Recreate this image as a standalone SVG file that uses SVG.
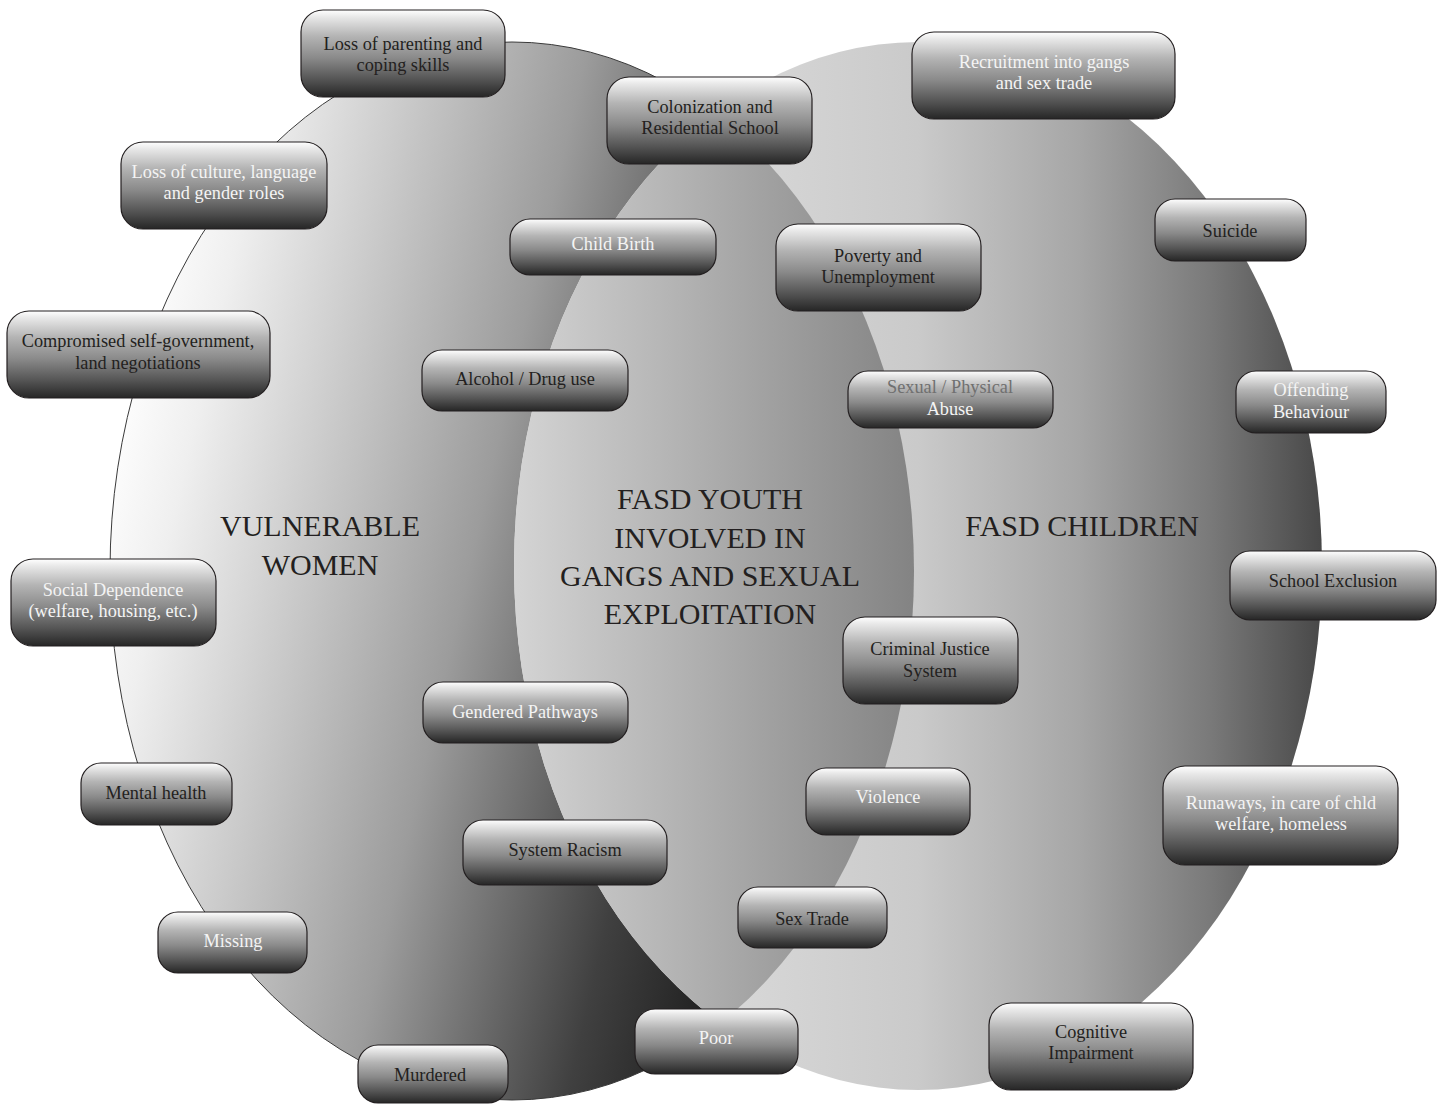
<svg xmlns="http://www.w3.org/2000/svg" width="1443" height="1104" viewBox="0 0 1443 1104">
<style>
.box{fill:url(#boxg);stroke:#231f20;stroke-width:1.2}
.t{font-family:"Liberation Serif","Times New Roman",serif;font-size:18.3px;text-anchor:middle}
.d{fill:#231f20}
.w{fill:#f4f4f4}
.g{fill:#707070}
.big{font-family:"Liberation Serif","Times New Roman",serif;font-size:30px;text-anchor:middle;fill:#231f20}
</style>
<defs>
<linearGradient id="boxg" x1="0" y1="0" x2="0" y2="1">
<stop offset="0" stop-color="#ffffff"/>
<stop offset="0.08" stop-color="#e8e8e8"/>
<stop offset="0.3" stop-color="#b4b4b4"/>
<stop offset="0.55" stop-color="#8a8a8a"/>
<stop offset="0.8" stop-color="#545454"/>
<stop offset="1" stop-color="#262626"/>
</linearGradient>
<linearGradient id="leftg" x1="0" y1="0.35" x2="1" y2="0.65">
<stop offset="0" stop-color="#ffffff"/>
<stop offset="0.1" stop-color="#efefef"/>
<stop offset="0.45" stop-color="#9c9c9c"/>
<stop offset="0.7" stop-color="#404040"/>
<stop offset="0.85" stop-color="#1e1e1e"/>
<stop offset="1" stop-color="#1a1a1a"/>
</linearGradient>
<linearGradient id="rightg" x1="0" y1="0" x2="1" y2="0">
<stop offset="0" stop-color="#e8e8e8"/>
<stop offset="0.5" stop-color="#cacaca"/>
<stop offset="0.7" stop-color="#a6a6a6"/>
<stop offset="0.86" stop-color="#7a7a7a"/>
<stop offset="1" stop-color="#484848"/>
</linearGradient>
<linearGradient id="lensg" gradientUnits="userSpaceOnUse" x1="515" y1="0" x2="915" y2="0">
<stop offset="0" stop-color="#d4d4d4"/>
<stop offset="1" stop-color="#838383"/>
</linearGradient>
<clipPath id="leftclip"><ellipse cx="512" cy="571" rx="402" ry="529"/></clipPath>
</defs>

<g id="venn">
<ellipse id="left-circle" cx="512" cy="571" rx="402" ry="529" fill="url(#leftg)" stroke="#3a3a3a" stroke-width="1"/>
<ellipse id="right-circle" cx="918" cy="566" rx="404" ry="524" fill="url(#rightg)"/>
<ellipse id="lens" cx="918" cy="566" rx="404" ry="524" fill="url(#lensg)" clip-path="url(#leftclip)"/>
</g>

<g id="labels">
<g id="vulnerable-women"><text class="big" x="320" y="536">VULNERABLE</text><text class="big" x="320" y="575">WOMEN</text></g>
<g id="fasd-youth"><text class="big" x="710" y="509">FASD YOUTH</text><text class="big" x="710" y="548">INVOLVED IN</text><text class="big" x="710" y="586">GANGS AND SEXUAL</text><text class="big" x="710" y="624">EXPLOITATION</text></g>
<g id="fasd-children"><text class="big" x="1082" y="536">FASD CHILDREN</text></g>
</g>

<g id="nodes">
<g id="n-parenting"><rect class="box" x="301" y="10" width="204" height="87" rx="22"/><text class="t d" x="403" y="50">Loss of parenting and</text><text class="t d" x="403" y="71">coping skills</text></g>
<g id="n-colonization"><rect class="box" x="607" y="77" width="205" height="87" rx="22"/><text class="t d" x="710" y="113">Colonization and</text><text class="t d" x="710" y="134">Residential School</text></g>
<g id="n-recruitment"><rect class="box" x="912" y="32" width="263" height="87" rx="22"/><text class="t w" x="1044" y="68">Recruitment into gangs</text><text class="t w" x="1044" y="89">and sex trade</text></g>
<g id="n-culture"><rect class="box" x="121" y="142" width="206" height="87" rx="22"/><text class="t w" x="224" y="178">Loss of culture, language</text><text class="t w" x="224" y="199">and gender roles</text></g>
<g id="n-childbirth"><rect class="box" x="510" y="219" width="206" height="56" rx="20"/><text class="t w" x="613" y="250">Child Birth</text></g>
<g id="n-poverty"><rect class="box" x="776" y="224" width="205" height="87" rx="22"/><text class="t d" x="878" y="262">Poverty and</text><text class="t d" x="878" y="283">Unemployment</text></g>
<g id="n-suicide"><rect class="box" x="1155" y="199" width="151" height="62" rx="20"/><text class="t d" x="1230" y="237">Suicide</text></g>
<g id="n-selfgov"><rect class="box" x="7" y="311" width="263" height="87" rx="22"/><text class="t d" x="138" y="347">Compromised self-government,</text><text class="t d" x="138" y="369">land negotiations</text></g>
<g id="n-alcohol"><rect class="box" x="422" y="350" width="206" height="61" rx="20"/><text class="t d" x="525" y="385">Alcohol / Drug use</text></g>
<g id="n-abuse"><rect class="box" x="848" y="371" width="205" height="57" rx="20"/><text class="t g" x="950" y="393">Sexual / Physical</text><text class="t w" x="950" y="415">Abuse</text></g>
<g id="n-offending"><rect class="box" x="1236" y="371" width="150" height="62" rx="20"/><text class="t w" x="1311" y="396">Offending</text><text class="t w" x="1311" y="418">Behaviour</text></g>
<g id="n-social"><rect class="box" x="11" y="559" width="205" height="87" rx="22"/><text class="t w" x="113" y="596">Social Dependence</text><text class="t w" x="113" y="617">(welfare, housing, etc.)</text></g>
<g id="n-school"><rect class="box" x="1230" y="551" width="206" height="69" rx="20"/><text class="t d" x="1333" y="587">School Exclusion</text></g>
<g id="n-criminal"><rect class="box" x="843" y="617" width="175" height="87" rx="22"/><text class="t d" x="930" y="655">Criminal Justice</text><text class="t d" x="930" y="677">System</text></g>
<g id="n-gendered"><rect class="box" x="423" y="682" width="205" height="61" rx="20"/><text class="t w" x="525" y="718">Gendered Pathways</text></g>
<g id="n-mental"><rect class="box" x="81" y="763" width="151" height="62" rx="20"/><text class="t d" x="156" y="799">Mental health</text></g>
<g id="n-violence"><rect class="box" x="806" y="768" width="164" height="67" rx="20"/><text class="t w" x="888" y="803">Violence</text></g>
<g id="n-runaways"><rect class="box" x="1163" y="766" width="235" height="99" rx="22"/><text class="t w" x="1281" y="809">Runaways, in care of chld</text><text class="t w" x="1281" y="830">welfare, homeless</text></g>
<g id="n-racism"><rect class="box" x="463" y="820" width="204" height="65" rx="20"/><text class="t d" x="565" y="856">System Racism</text></g>
<g id="n-sextrade"><rect class="box" x="738" y="887" width="149" height="61" rx="20"/><text class="t d" x="812" y="925">Sex Trade</text></g>
<g id="n-missing"><rect class="box" x="158" y="912" width="149" height="61" rx="20"/><text class="t w" x="233" y="947">Missing</text></g>
<g id="n-poor"><rect class="box" x="635" y="1009" width="163" height="65" rx="20"/><text class="t w" x="716" y="1044">Poor</text></g>
<g id="n-cognitive"><rect class="box" x="989" y="1003" width="204" height="87" rx="22"/><text class="t d" x="1091" y="1038">Cognitive</text><text class="t d" x="1091" y="1059">Impairment</text></g>
<g id="n-murdered"><rect class="box" x="358" y="1045" width="150" height="58" rx="20"/><text class="t d" x="430" y="1081">Murdered</text></g>
</g>
</svg>
